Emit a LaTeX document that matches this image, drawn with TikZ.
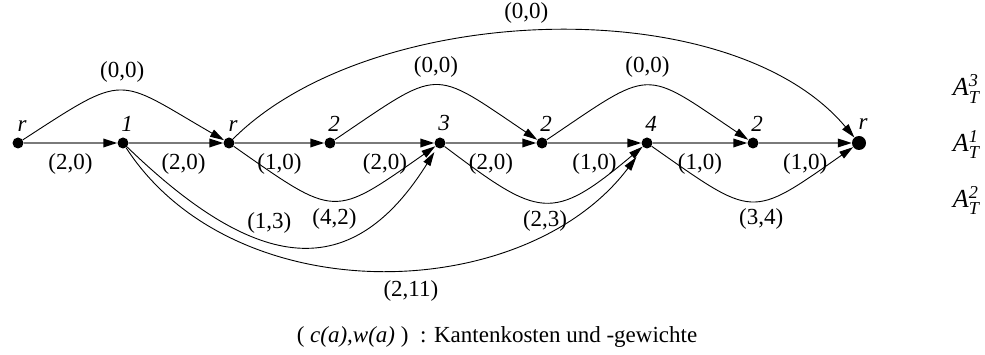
\documentclass[tikz,border=0pt]{standalone}
\usepackage{amsmath}
\usepackage{fontspec}
\setmainfont{Liberation Serif}
\usetikzlibrary{arrows.meta}
\definecolor{kante}{HTML}{7A7A7A}
\tikzset{
  knoten/.style={circle, fill=black, minimum size=11pt, inner sep=0pt},
  wurzel/.style={circle, fill=black, minimum size=14pt, inner sep=0pt},
  klab/.style={font=\itshape, inner sep=0pt, xshift=4pt},
  gerade/.style={draw=kante, line width=2pt,
    -{Triangle[length=14pt,width=8.5pt,color=black]}},
  bogen/.style={draw=black, line width=0.9pt,
    -{Triangle[length=14pt,width=8pt]}},
  glab/.style={below, yshift=-2pt},
  legtext/.style={anchor=base west, font=\fontsize{26}{30}\selectfont},
}

\begin{document}
\fontsize{23}{27}\selectfont
\begin{tikzpicture}[x=1pt, y=1pt, label distance=6pt]
\useasboundingbox (0,-212) rectangle (985,143);

% Knoten
\node[knoten, label={[klab]above:r}] (k0) at (18,0) {};
\node[knoten, label={[klab]above:1}] (k1) at (123,0) {};
\node[knoten, label={[klab]above:r}] (k2) at (229,0) {};
\node[knoten, label={[klab]above:2}] (k3) at (330,0) {};
\node[knoten, label={[klab]above:3}] (k4) at (440,0) {};
\node[knoten, label={[klab]above:2}] (k5) at (542,0) {};
\node[knoten, label={[klab]above:4}] (k6) at (647,0) {};
\node[knoten, label={[klab]above:2}] (k7) at (753,0) {};
\node[wurzel, label={[klab]above:r}] (k8) at (859,0) {};

% gerade Kanten
\draw[gerade] (k0) -- node[glab]{(2,0)} (k1);
\draw[gerade] (k1) -- node[glab, pos=0.58]{(2,0)} (k2);
\draw[gerade] (k2) -- node[glab]{(1,0)} (k3);
\draw[gerade] (k3) -- node[glab]{(2,0)} (k4);
\draw[gerade] (k4) -- node[glab]{(2,0)} (k5);
\draw[gerade] (k5) -- node[glab]{(1,0)} (k6);
\draw[gerade] (k6) -- node[glab]{(1,0)} (k7);
\draw[gerade] (k7) -- node[glab]{(1,0)} (k8);

% Boegen oben
\draw[bogen] (k0) to[out=33, in=150, looseness=1.6] node[above]{(0,0)} (k2);
\draw[bogen] (k3) to[out=34, in=146, looseness=1.64] node[above]{(0,0)} (k5);
\draw[bogen] (k5) to[out=34, in=146, looseness=1.64] node[above]{(0,0)} (k7);
\draw[bogen] (k2) to[out=45, in=130, looseness=0.8] node[above, pos=0.47]{(0,0)} (k8);

% Boegen unten
\draw[bogen] (k2) to[out=-35, in=-145, looseness=1.6] node[below]{(4,2)} (k4);
\draw[bogen] (k4) to[out=-37, in=-140, looseness=1.54] node[below]{(2,3)} (k6);
\draw[bogen] (k6) to[out=-35, in=-145, looseness=1.6] node[below, pos=0.56]{(3,4)} (k8);
\draw[bogen, shorten >=5pt] (k1) to[out=-44, in=-122, looseness=1.4] node[above, pos=0.42]{(1,3)} (k4);
\draw[bogen, shorten >=12pt] (k1) to[out=-57, in=-127, looseness=0.98] node[below, pos=0.55, yshift=-5pt]{(2,11)} (k6);

% Legende
\node[legtext] (a3) at (945,47) {\textit{A}$^{\textit{3}}_{\textit{T}}$};
\node[legtext] (a1) at (945,-9) {\textit{A}$^{\textit{1}}_{\textit{T}}$};
\node[legtext] (a2) at (945,-65) {\textit{A}$^{\textit{2}}_{\textit{T}}$};
\node (legende) at (497,-194) {( \textit{c(a),w(a)} )\ \ : Kantenkosten und -gewichte};

\end{tikzpicture}
\end{document}
